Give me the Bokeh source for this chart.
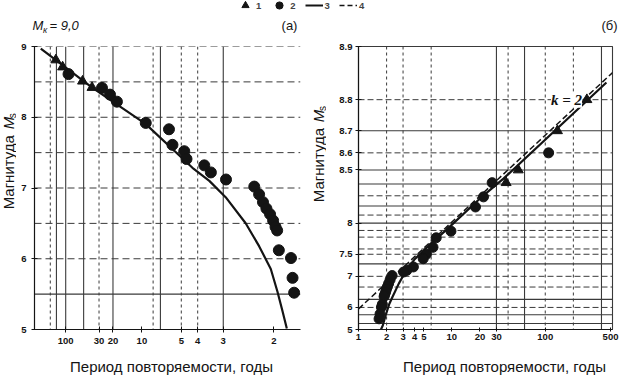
import numpy as np
from bokeh.plotting import figure
from bokeh.models import Range1d, FixedTicker, Span, Label, Legend, LegendItem
from bokeh.layouts import row, column
from bokeh.embed import file_html
from bokeh.resources import INLINE

# ---------------- data, panel (a) ----------------
tri_T_a = [154, 114, 52, 37.5]
tri_M_a = [8.81, 8.71, 8.51, 8.42]
dot_T_a = [89, 27.4, 21.7, 18.0, 9.24, 6.05, 5.72, 4.79, 4.64, 3.69, 3.42, 2.92,
           2.29, 2.21, 2.15, 2.10, 2.05, 2.01, 1.98, 1.96, 1.94, 1.81, 1.795, 1.78]
dot_M_a = [8.61, 8.415, 8.32, 8.22, 7.92, 7.83, 7.61, 7.52, 7.41, 7.32, 7.22, 7.12,
           7.02, 6.91, 6.80, 6.71, 6.63, 6.54, 6.45, 6.40, 6.12, 6.01, 5.73, 5.52]
curve_T_a = [323, 36.9, 9.28, 4.28, 3.48, 2.93, 2.45, 2.21, 2.04, 1.956, 1.898, 1.852]
curve_M_a = [8.97, 8.415, 7.907, 7.286, 7.101, 6.870, 6.502, 6.178, 5.856, 5.534, 5.257, 5.013]
tick_T_a = [100, 30, 20, 10, 5, 4, 3, 2]
tick_M_a = [5, 6, 7, 8, 9]
grid_M_a_dash = [9, 8.5, 8, 7.5, 7, 6.5, 6]
grid_M_a_solid = [5.5]
grid_T_a_solid = [150, 100, 50, 20, 7, 3]
grid_T_a_dash = [200, 30, 8, 5, 4]

# ---------------- data, panel (b) ----------------
tri_T_b = [279, 135, 51.4, 38.1]
tri_M_b = [8.80, 8.70, 8.50, 8.41]
dot_T_b = [108.7, 27, 21.8, 17.9, 9.77, 6.8, 6.28, 5.34, 4.93, 3.87, 3.29, 3.04,
           2.29, 2.18, 2.10, 2.04, 1.99, 1.95, 1.90, 1.88, 1.80, 1.76, 1.70, 1.66]
dot_M_b = [8.60, 8.41, 8.29, 8.19, 7.89, 7.79, 7.63, 7.50, 7.41, 7.23, 7.15, 7.11,
           7.02, 6.91, 6.80, 6.71, 6.63, 6.54, 6.45, 6.40, 6.12, 6.01, 5.73, 5.52]
curve_T_b = [1.74, 1.82, 1.97, 2.13, 2.31, 2.7, 3.19, 4.0, 5.17, 9.08, 20.3, 35.7, 452]
curve_M_b = [5.0, 5.2, 5.73, 6.12, 6.38, 6.8, 7.12, 7.4, 7.6, 7.93, 8.28, 8.44, 8.84]
dash_T_b = [1.0, 530]
dash_M_b = [5.94, 8.86]
tick_T_b = [1, 2, 3, 4, 5, 10, 20, 30, 100, 500]
tick_M_b = [5, 6, 7, 7.5, 8, 8.5, 8.6, 8.7, 8.8, 8.9]
tick_M_b_labels = ["5", "6", "7", "7.5", "8", "8.5", "8.6", "8.7", "8.8", "8.9"]
grid_M_b_solid = [8.7, 8.5, 8.4, 8.2, 8.0, 7.3, 6.3, 5.7, 5.3]
grid_M_b_dash = [8.9, 8.8, 8.6, 8.3, 8.1, 7.9, 7.8, 7.6, 7.5, 7.0, 6.7, 6.0]
grid_T_b_solid = [30, 60, 400]
grid_T_b_dash = [2, 3, 6, 40, 100, 200]

M_MAX = 9.0
INK = "#141414"
GRID = "#3a3a3a"
FONT = "Liberation Sans"


def lnln(T):
    return np.log(np.log(np.asarray(T, dtype=float)))


def mv(M):
    return -np.log(M_MAX - np.asarray(M, dtype=float))


# ---------------- geometry (page px) ----------------
TOP_H = 36                 # title / legend strip: page y 8..44
BOT_H = 22                 # x-title strip: page y 362..384
PAN_H = 376 - TOP_H - BOT_H
PAN_Y0 = 8 + TOP_H
SA_W, PA_W, SB_W = 16, 288, 22
PB_W = 622 - SA_W - PA_W - SB_W
PA_X0 = 8 + SA_W
SB_X0 = PA_X0 + PA_W
PB_X0 = SB_X0 + SB_W

FA_L, FA_R, FA_T, FA_B = 42, 308, 54, 340
UA0, UA1 = 1.811, -0.6085
FB_L, FB_R, FB_T, FB_B = 366, 620, 50, 337
XB0, XB1 = 1.0, 525.0
VB0, VB1 = float(mv(5.0)), float(mv(8.9))


def bx(px):
    return 10 ** (np.log10(XB0) + (px - FB_L) / (FB_R - FB_L) * (np.log10(XB1) - np.log10(XB0)))


def strip(w, h):
    s = figure(width=w, height=h, x_range=Range1d(0, w), y_range=Range1d(0, h),
               output_backend="svg", toolbar_location=None, min_border=0,
               x_axis_location=None, y_axis_location=None)
    s.grid.visible = False
    s.outline_line_color = None
    return s


def put(s, x0, y0, h, px, py, text, size="13px", style="normal", align="left",
        angle=0.0, font=FONT):
    """Text at page position (px, py) inside strip s whose top-left is page (x0, y0)."""
    s.add_layout(Label(x=px - x0, y=(y0 + h) - py, text=text, text_font=font,
                       text_font_size=size, text_font_style=style, text_align=align,
                       text_baseline="middle", text_color=INK, angle=angle))


def style_axes(p):
    for a in list(p.xaxis) + list(p.yaxis):
        a.axis_line_color = INK
        a.axis_line_width = 1.2
        a.major_tick_line_color = INK
        a.minor_tick_line_color = None
        a.major_label_text_font = FONT
        a.major_label_text_font_style = "bold"
        a.major_label_text_font_size = "9.5px"
        a.major_label_text_color = INK


# ---------------- top strip: legend + panel captions ----------------
st = strip(622, TOP_H)
r1 = st.scatter([-50], [-50], marker="triangle", size=9, color=INK)
r2 = st.scatter([-50], [-50], marker="circle", size=9, color=INK)
r3 = st.line([-50, -40], [-50, -50], line_width=2, color=INK)
r4 = st.line([-50, -40], [-50, -50], line_width=1.5, color=INK, line_dash="5 3")
leg = Legend(items=[LegendItem(label="1", renderers=[r1]),
                    LegendItem(label="2", renderers=[r2]),
                    LegendItem(label="3", renderers=[r3]),
                    LegendItem(label="4", renderers=[r4])],
             orientation="horizontal", location=(236, TOP_H - 5 - 9),
             glyph_width=18, glyph_height=18, label_standoff=2, spacing=9,
             padding=0, margin=0, border_line_color=None, background_fill_alpha=0,
             label_text_font=FONT, label_text_font_style="bold",
             label_text_font_size="9.5px", label_height=10, label_width=0)
st.add_layout(leg, "center")
put(st, 8, 8, TOP_H, 40, 33, "M", size="13px", style="italic")
put(st, 8, 8, TOP_H, 50.5, 37, "к", size="9px", style="italic")
put(st, 8, 8, TOP_H, 57, 33, "= 9,0", size="13px", style="italic")
put(st, 8, 8, TOP_H, 297, 33, "(а)", size="13px", align="center")
put(st, 8, 8, TOP_H, 617, 33, "(б)", size="13px", align="center")

# ---------------- y-title strips ----------------
sa = strip(SA_W, PAN_H)
put(sa, 8, PAN_Y0, PAN_H, 16, 227, "Магнитуда", size="15px", angle=np.pi / 2)
put(sa, 8, PAN_Y0, PAN_H, 16, 137, "M", size="15px", style="italic", angle=np.pi / 2)
put(sa, 8, PAN_Y0, PAN_H, 19.5, 124.5, "s", size="10px", angle=np.pi / 2)

sb = strip(SB_W, PAN_H)
put(sb, SB_X0, PAN_Y0, PAN_H, 326, 219, "Магнитуда", size="15px", angle=np.pi / 2)
put(sb, SB_X0, PAN_Y0, PAN_H, 326, 129, "M", size="15px", style="italic", angle=np.pi / 2)
put(sb, SB_X0, PAN_Y0, PAN_H, 329.5, 116.5, "s", size="10px", angle=np.pi / 2)

# ---------------- bottom strip: x titles ----------------
sbot = strip(622, BOT_H)
put(sbot, 8, 8 + TOP_H + PAN_H, BOT_H, 179, 374, "Период повторяемости, годы", size="15px", align="center")
put(sbot, 8, 8 + TOP_H + PAN_H, BOT_H, 512, 374, "Период повторяемости, годы", size="15px", align="center")

# ---------------- panel (a) ----------------
pa = figure(width=PA_W, height=PAN_H, x_range=Range1d(UA0, UA1), y_range=Range1d(5, 9),
            output_backend="svg", toolbar_location=None,
            min_border_left=FA_L - PA_X0, min_border_right=PA_X0 + PA_W - FA_R,
            min_border_top=FA_T - PAN_Y0, min_border_bottom=PAN_Y0 + PAN_H - FA_B)
pa.grid.visible = False
pa.outline_line_color = None

ua_ticks = [float(u) for u in lnln(tick_T_a)]
pa.xaxis.ticker = FixedTicker(ticks=ua_ticks)
pa.xaxis.major_label_overrides = {u: str(t) for u, t in zip(ua_ticks, tick_T_a)}
pa.yaxis.ticker = FixedTicker(ticks=tick_M_a)
style_axes(pa)
pa.xaxis.major_tick_in = 3
pa.xaxis.major_tick_out = 3
pa.xaxis.major_label_standoff = 5
pa.yaxis.major_tick_in = 3
pa.yaxis.major_tick_out = 3
pa.yaxis.major_label_standoff = 5

for m in grid_M_a_dash:
    pa.add_layout(Span(location=m, dimension="width", line_color=GRID, line_width=1,
                       line_dash="7 4", level="underlay"))
for m in grid_M_a_solid:
    pa.add_layout(Span(location=m, dimension="width", line_color=GRID, line_width=1.2,
                       level="underlay"))
for u in lnln(grid_T_a_solid):
    pa.add_layout(Span(location=float(u), dimension="height", line_color=GRID, line_width=1.1,
                       level="underlay"))
for u in lnln(grid_T_a_dash):
    pa.add_layout(Span(location=float(u), dimension="height", line_color=GRID, line_width=1,
                       line_dash="3 3", level="underlay"))

pa.line(lnln(curve_T_a), curve_M_a, line_width=2.2, color=INK)
pa.scatter(lnln(dot_T_a), dot_M_a, marker="circle", size=11, color=INK)
pa.scatter(lnln(tri_T_a), tri_M_a, marker="triangle", size=10, color=INK)

# ---------------- panel (b) ----------------
pb = figure(width=PB_W, height=PAN_H, x_axis_type="log",
            x_range=Range1d(XB0, XB1), y_range=Range1d(VB0, VB1),
            output_backend="svg", toolbar_location=None,
            min_border_left=FB_L - PB_X0, min_border_right=PB_X0 + PB_W - FB_R,
            min_border_top=FB_T - PAN_Y0, min_border_bottom=PAN_Y0 + PAN_H - FB_B)
pb.grid.visible = False
pb.outline_line_color = GRID
pb.outline_line_width = 1.1

pb.xaxis.ticker = FixedTicker(ticks=tick_T_b)
pb.xaxis.major_label_overrides = {t: str(t) for t in tick_T_b}
vb_ticks = [float(v) for v in mv(tick_M_b)]
pb.yaxis.ticker = FixedTicker(ticks=vb_ticks)
pb.yaxis.major_label_overrides = {v: s for v, s in zip(vb_ticks, tick_M_b_labels)}
style_axes(pb)
pb.xaxis.major_tick_in = 2
pb.xaxis.major_tick_out = 2
pb.xaxis.major_label_standoff = 2
pb.yaxis.major_tick_in = 3
pb.yaxis.major_tick_out = 3
pb.yaxis.major_label_standoff = 3

for v in mv(grid_M_b_solid):
    pb.add_layout(Span(location=float(v), dimension="width", line_color=GRID, line_width=1.1,
                       level="underlay"))
for v in mv(grid_M_b_dash):
    pb.add_layout(Span(location=float(v), dimension="width", line_color=GRID, line_width=1,
                       line_dash="6 3", level="underlay"))
for t in grid_T_b_solid:
    pb.add_layout(Span(location=t, dimension="height", line_color=GRID, line_width=1.1,
                       level="underlay"))
for t in grid_T_b_dash:
    pb.add_layout(Span(location=t, dimension="height", line_color=GRID, line_width=1,
                       line_dash="3 3", level="underlay"))

pb.line(dash_T_b, mv(dash_M_b), line_width=1.5, color=INK, line_dash="6 3")
pb.line(curve_T_b, mv(curve_M_b), line_width=2.2, color=INK)
pb.scatter(dot_T_b, mv(dot_M_b), marker="circle", size=10, color=INK)
pb.scatter(tri_T_b, mv(tri_M_b), marker="triangle", size=10, color=INK)

pb.add_layout(Label(x=float(bx(574)), y=float(mv(8.8)), text="k = 2",
                    text_font="Liberation Serif", text_font_size="15px",
                    text_font_style="bold italic", text_align="center",
                    text_baseline="middle", text_color=INK,
                    background_fill_color="white", background_fill_alpha=1.0))

layout = column(st, row(sa, pa, sb, pb), sbot)
open("out.html", "w").write(file_html(layout, INLINE))
